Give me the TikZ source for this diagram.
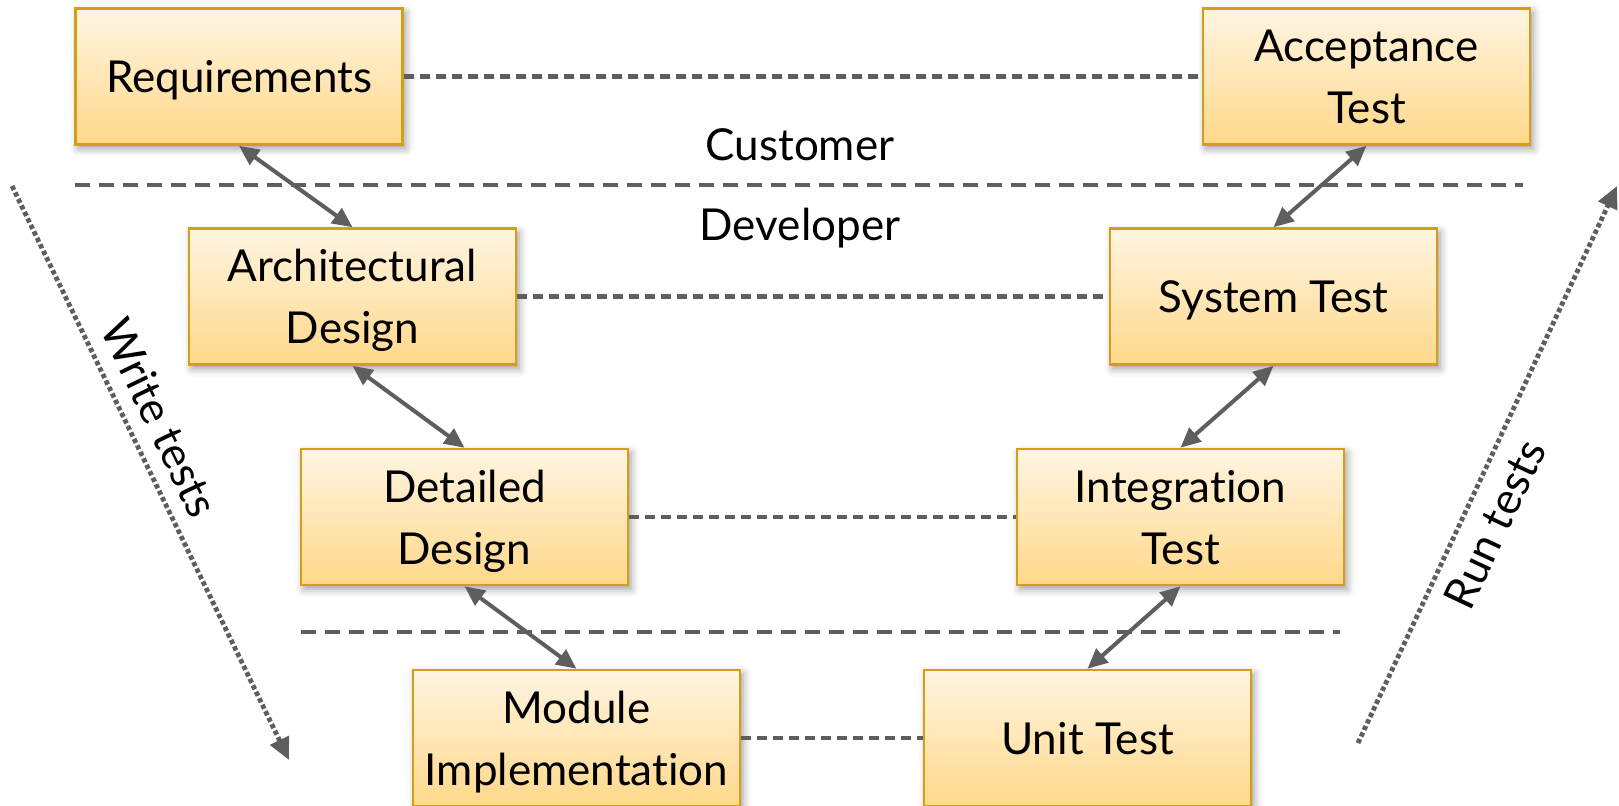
\documentclass[tikz,border=0pt]{standalone}
\usepackage{fontspec}
\setmainfont{Lato}[Ligatures=NoCommon]
\usetikzlibrary{arrows.meta, shadows.blur}

\definecolor{boxtop}{RGB}{255,245,226}
\definecolor{boxbot}{RGB}{255,216,138}
\definecolor{boxrim}{RGB}{212,158,22}
\definecolor{ink}{RGB}{94,94,94}

\begin{document}
\begin{tikzpicture}[x=0.5pt, y=-0.5pt,
  phase/.style={draw=boxrim, line width=1.3pt, top color=boxtop, bottom color=boxbot,
    minimum width=163.5pt, minimum height=68pt, inner sep=0pt, align=center,
    text depth=0pt, font=\fontsize{22}{31}\selectfont,
    blur shadow={shadow xshift=1.5pt, shadow yshift=-2pt, shadow blur radius=4pt, shadow opacity=40}},
  link/.style={draw=ink, line width=2pt,
    {Triangle[length=10pt,width=9pt]}-{Triangle[length=10pt,width=9pt]}},
  pair/.style={draw=ink, line width=2.1pt, dash pattern=on 5pt off 3pt},
  divider/.style={draw=ink, line width=2.1pt, dash pattern=on 7.5pt off 4.5pt},
  flow/.style={draw=ink, line width=2.4pt, dash pattern=on 2.2pt off 1.4pt,
    -{Triangle[length=11pt,width=10pt]}},
  caption/.style={font=\fontsize{22}{31}\selectfont}
]
\useasboundingbox (0,0) rectangle (1619,805);

% customer / developer boundary
\coordinate (d1a) at (75,185);
\coordinate (d1b) at (1523,185);
\draw[divider] (d1a) -- (d1b);
% module level boundary
\coordinate (d2a) at (301,632);
\coordinate (d2b) at (1340,632);
\draw[divider] (d2a) -- (d2b);

\node[caption, anchor=base] (cust) at (800,160) {Customer};
\node[caption, anchor=base] (dev) at (800,240) {Developer};

% phases of the V
\node[phase] (req)  at (239,76.5)    {Requirements};
\node[phase] (acc)  at (1366.5,76.5) {Acceptance\\Test};
\node[phase] (arch) at (352.5,296.5) {Architectural\\Design};
\node[phase] (sys)  at (1273.5,296.5){System Test};
\node[phase] (det)  at (464.5,517)   {Detailed\\Design};
\node[phase] (int)  at (1180.5,517)  {Integration\\Test};
\node[phase] (mod)  at (576.5,738)   {Module\\Implementation};
\node[phase] (unit) at (1087.5,738)  {Unit Test};

% design phase paired with its test phase
\draw[pair] (req) -- (acc);
\draw[pair] (arch) -- (sys);
\draw[pair] (det) -- (int);
\draw[pair] (mod) -- (unit);

% refinement links
\draw[link] (req.south) -- (arch.north);
\draw[link] (arch.south) -- (det.north);
\draw[link] (det.south) -- (mod.north);
\draw[link] (unit.north) -- (int.south);
\draw[link] (int.north) -- (sys.south);
\draw[link] (sys.north) -- (acc.south);

% direction of work
\coordinate (w1) at (12,186);
\coordinate (w2) at (289,760);
\draw[flow] (w1) -- (w2);
\node[caption, rotate=-64.2] (wl) at (160,418) {Write tests};

\coordinate (r1) at (1358,743);
\coordinate (r2) at (1617,186);
\draw[flow] (r1) -- (r2);
\node[caption, rotate=64.9] (rl) at (1495,524) {Run tests};
\end{tikzpicture}
\end{document}
